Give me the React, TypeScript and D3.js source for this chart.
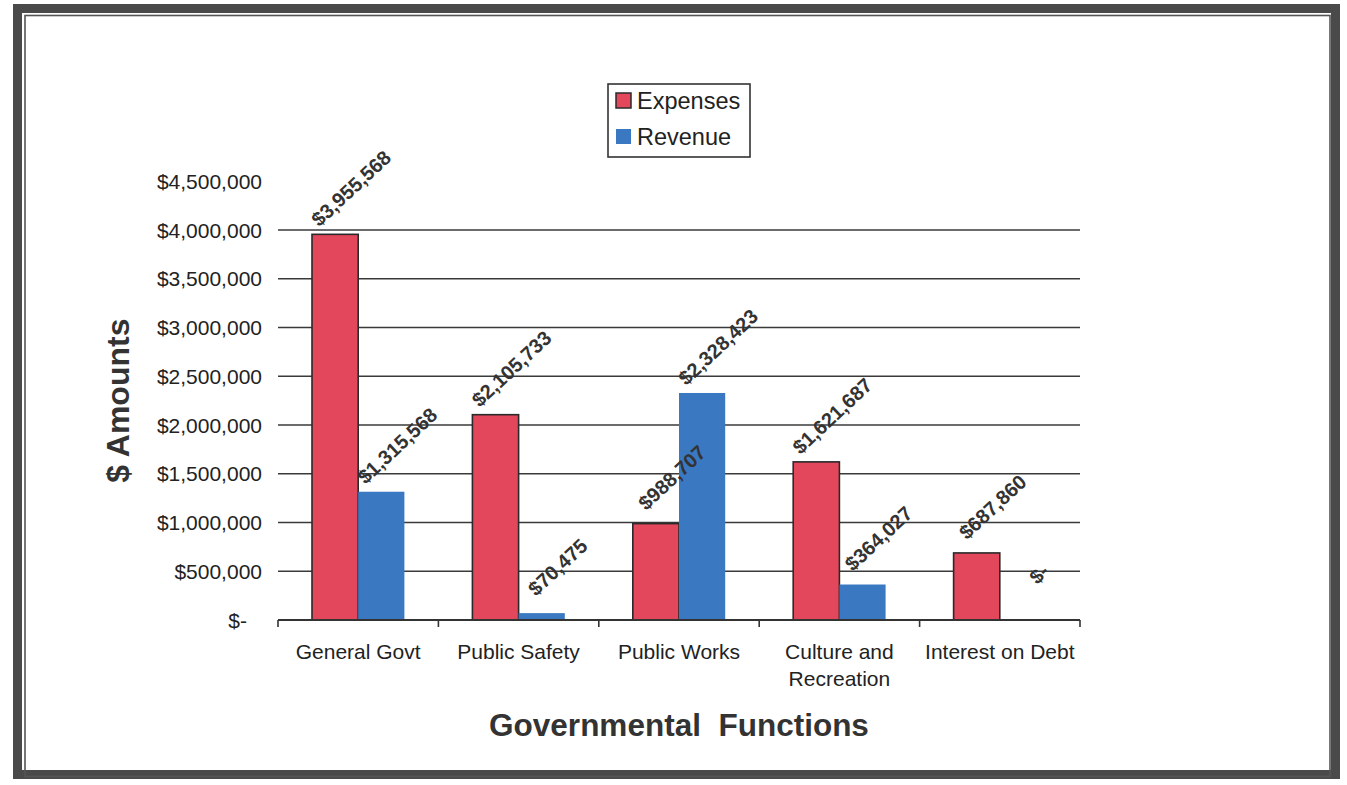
import React from "react";
import { scaleBand, scaleLinear, format } from "d3";

const categories = [
  ["General Govt"],
  ["Public Safety"],
  ["Public Works"],
  ["Culture and", "Recreation"],
  ["Interest on Debt"],
];
const expenses = [3955568, 2105733, 988707, 1621687, 687860];
const revenue = [1315568, 70475, 2328423, 364027, 0];
const yTicks = [0, 500000, 1000000, 1500000, 2000000, 2500000, 3000000, 3500000, 4000000, 4500000];
const seriesNames = ["Expenses", "Revenue"];
const seriesColors = ["#e2475b", "#3a78c2"];

const W = 1347;
const H = 785;
const left = 278;
const right = 1080;
const top = 181.25;
const bottom = 620;

const money = (v: number) => (v === 0 ? "$-" : format("$,")(v));

const App: React.FC = () => {
  const x0 = scaleBand<number>()
    .domain(categories.map((_, i) => i))
    .range([left, right]);
  const x1 = scaleBand<number>().domain([0, 1]).range([34, x0.bandwidth() - 34]);
  const y = scaleLinear().domain([0, 4500000]).range([bottom, top]);
  const series = [expenses, revenue];
  const font = "Liberation Sans, Arial, sans-serif";

  return (
    <div style={{ position: "absolute", left: 0, top: 0 }}>
      <svg width={W} height={H} style={{ display: "block", background: "#fff" }} fontFamily={font}>
        {/* frame */}
        <rect x={17.5} y={8.5} width={1318} height={766} fill="none" stroke="#4a4a4a" strokeWidth={9} />
        <rect x={25} y={15.5} width={1305} height={761} fill="none" stroke="#555" strokeWidth={1.6} />

        {/* gridlines */}
        {yTicks.filter((t) => t > 0 && t < 4500000).map((t) => (
          <line key={t} x1={left} x2={right} y1={y(t)} y2={y(t)} stroke="#3a3a3a" strokeWidth={1.6} />
        ))}

        {/* y tick labels */}
        {yTicks.map((t) => (
          <text
            key={t}
            x={t === 0 ? 247 : 262}
            y={y(t)}
            textAnchor="end"
            dominantBaseline="central"
            fontSize={21}
            fill="#222"
          >
            {money(t)}
          </text>
        ))}

        {/* bars */}
        {categories.map((_, i) =>
          series.map((vals, s) => (
            <rect
              key={`${i}-${s}`}
              x={x0(i)! + x1(s)!}
              y={y(vals[i])}
              width={x1.bandwidth()}
              height={bottom - y(vals[i])}
              fill={seriesColors[s]}
              stroke={s === 0 ? "#2a2a2a" : "none"}
              strokeWidth={1.6}
            />
          ))
        )}

        {/* x axis */}
        <line x1={left} x2={right} y1={bottom} y2={bottom} stroke="#333" strokeWidth={1.8} />
        {categories.map((_, i) => (
          <line key={i} x1={x0(i)!} x2={x0(i)!} y1={bottom} y2={bottom + 7} stroke="#333" strokeWidth={1.6} />
        ))}
        <line x1={right} x2={right} y1={bottom} y2={bottom + 7} stroke="#333" strokeWidth={1.6} />

        {/* category labels */}
        {categories.map((lines, i) => (
          <text key={i} x={x0(i)! + x0.bandwidth() / 2} textAnchor="middle" fontSize={21} fill="#222">
            {lines.map((l, j) => (
              <tspan key={j} x={x0(i)! + x0.bandwidth() / 2} y={659 + j * 27}>
                {l}
              </tspan>
            ))}
          </text>
        ))}

        {/* data labels */}
        {categories.map((_, i) =>
          series.map((vals, s) => {
            const cx = x0(i)! + x1(s)! + x1.bandwidth() / 2 + 16;
            const cy = y(vals[i]) - 46;
            return (
              <text
                key={`l${i}-${s}`}
                transform={`translate(${cx},${cy}) rotate(-43)`}
                textAnchor="middle"
                dominantBaseline="central"
                fontSize={20}
                fontWeight="bold"
                fill="#333"
              >
                {money(vals[i])}
              </text>
            );
          })
        )}

        {/* axis titles */}
        <text
          x={(left + right) / 2}
          y={736}
          textAnchor="middle"
          fontSize={31.5}
          fontWeight="bold"
          fill="#333"
          style={{ whiteSpace: "pre" }}
        >
          {"Governmental  Functions"}
        </text>
        <text
          transform={`translate(129,${(top + bottom) / 2}) rotate(-90)`}
          textAnchor="middle"
          fontSize={32}
          fontWeight="bold"
          fill="#333"
        >
          $ Amounts
        </text>

        {/* legend */}
        <rect x={608} y={84} width={142} height={73} fill="#fff" stroke="#333" strokeWidth={1.6} />
        {seriesNames.map((n, s) => (
          <g key={n} transform={`translate(616,${93 + s * 36})`}>
            <rect width={15} height={15} fill={seriesColors[s]} stroke={s === 0 ? "#2a2a2a" : "none"} strokeWidth={1.5} />
            <text x={21} y={8} dominantBaseline="central" fontSize={23.5} fill="#222">
              {n}
            </text>
          </g>
        ))}
      </svg>
    </div>
  );
};

export default App;
